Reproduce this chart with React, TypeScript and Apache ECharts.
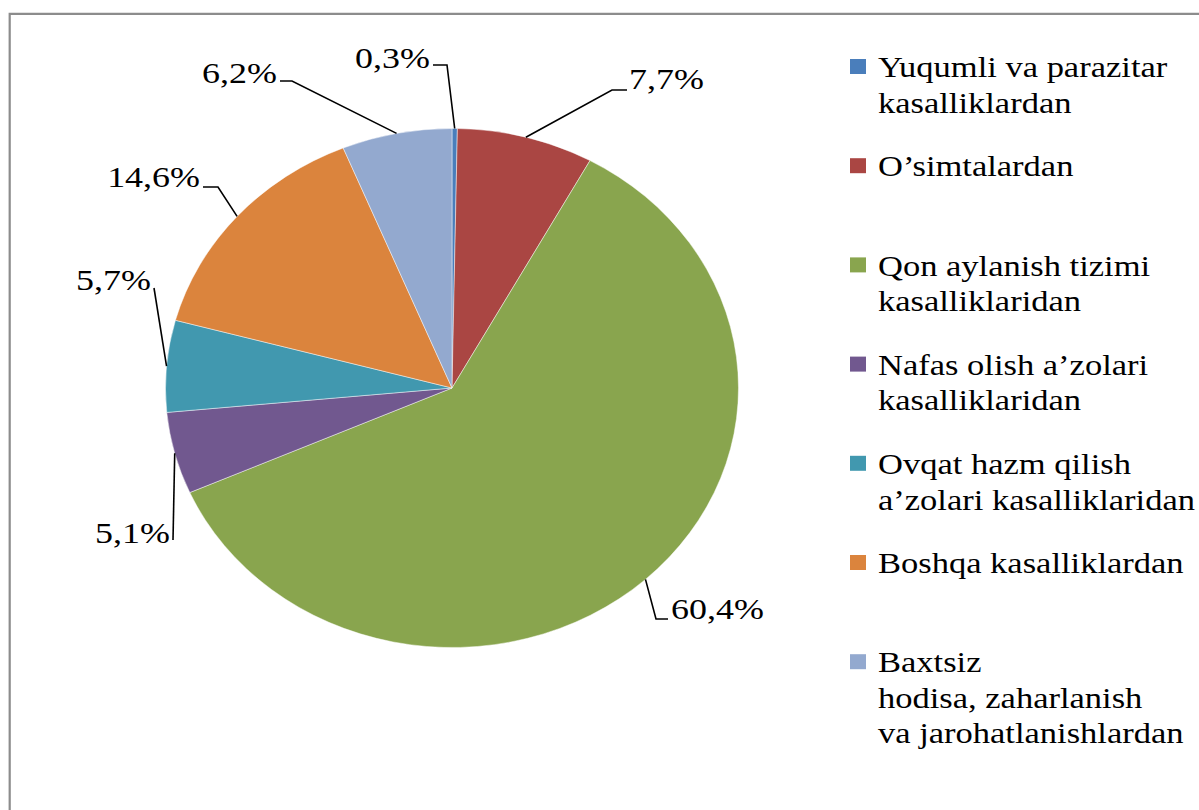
import React, { useEffect, useRef } from "react";
import * as echarts from "echarts";

const categories = [
  "Yuqumli va parazitar\nkasalliklardan",
  "O’simtalardan",
  "Qon aylanish tizimi\nkasalliklaridan",
  "Nafas olish a’zolari\nkasalliklaridan",
  "Ovqat hazm qilish\na’zolari kasalliklaridan",
  "Boshqa kasalliklardan",
  "Baxtsiz\nhodisa, zaharlanish\nva jarohatlanishlardan",
];
const values = [0.3, 7.7, 60.4, 5.1, 5.7, 14.6, 6.2];
const colors = ["#4A7EBB", "#AA4643", "#89A54E", "#71588F", "#4198AF", "#DB843D", "#93A9CF"];

// layout constants (positions only)
const CX = 452;
const CY = 388;
const RX = 286.5;
const RY = 259.5;
const FONT = "'Liberation Serif', 'Times New Roman', serif";
const TEXT_SX = 1.24;
const LEGEND_SX = 1.19;
const labelLayout = [
  { elbow: [447, 65], end: [433, 65], tx: 430, ty: 58, align: "right" },
  { elbow: [612, 90], end: [627, 90], tx: 629, ty: 79, align: "left" },
  { elbow: [656, 619], end: [668, 619], tx: 671, ty: 609, align: "left" },
  { elbow: [173, 540], end: [173, 540], tx: 170, ty: 533, align: "right" },
  { elbow: [154, 288], end: [154, 288], tx: 151, ty: 280, align: "right" },
  { elbow: [218, 187], end: [203, 187], tx: 200, ty: 177, align: "right" },
  { elbow: [292, 81], end: [280, 81], tx: 277, ty: 73, align: "right" },
];
const LEGEND_X = 850;
const LEGEND_TOP = 59;
const LEGEND_STEP = 99.2;

export default function App() {
  const ref = useRef<HTMLDivElement>(null);

  useEffect(() => {
    if (!ref.current) return;
    const chart = echarts.init(ref.current, undefined, { renderer: "svg" });

    const total = values.reduce((a, b) => a + b, 0);
    let acc = 0;
    const sliceData = values.map((v) => {
      const s = acc / total;
      acc += v;
      return [s, acc / total, v];
    });

    const fmt = (v: number) => v.toFixed(1).replace(".", ",") + "%";

    const renderItem = (params: any, api: any) => {
      const i = params.dataIndex;
      const s = api.value(0);
      const e = api.value(1);
      const v = api.value(2);
      const a0 = -Math.PI / 2 + 2 * Math.PI * s;
      const a1 = -Math.PI / 2 + 2 * Math.PI * e;
      const am = (a0 + a1) / 2;
      const px = CX + RX * Math.cos(am);
      const py = CY + RY * Math.sin(am);
      const L = labelLayout[i];
      return {
        type: "group",
        children: [
          {
            type: "group",
            x: CX,
            y: CY,
            scaleX: RX / RY,
            children: [
              {
                type: "sector",
                shape: { cx: 0, cy: 0, r0: 0, r: RY, startAngle: a0, endAngle: a1, clockwise: true },
                style: { fill: colors[i], stroke: "rgba(255,255,255,0.55)", lineWidth: 0.8, strokeNoScale: true },
              },
            ],
          },
          {
            type: "polyline",
            shape: { points: [[px, py], L.elbow, L.end] },
            style: { stroke: "#000", lineWidth: 1.6, fill: null },
          },
          {
            type: "text",
            x: L.tx,
            y: L.ty,
            scaleX: TEXT_SX,
            style: {
              text: fmt(v),
              x: 0,
              y: 0,
              fill: "#000",
              fontFamily: FONT,
              fontSize: 29,
              align: L.align,
              verticalAlign: "middle",
            },
          },
        ],
      };
    };

    const legendEls: any[] = [];
    categories.forEach((name, i) => {
      const top = LEGEND_TOP + i * LEGEND_STEP;
      legendEls.push({
        type: "rect",
        shape: { x: LEGEND_X, y: top, width: 16, height: 15 },
        style: { fill: colors[i] },
      });
      legendEls.push({
        type: "text",
        x: 878,
        y: top - 9,
        scaleX: LEGEND_SX,
        style: {
          text: name,
          x: 0,
          y: 0,
          fill: "#000",
          fontFamily: FONT,
          fontSize: 29,
          lineHeight: 35.5,
          align: "left",
          verticalAlign: "top",
          textAlign: "left",
          textVerticalAlign: "top",
        },
      });
    });

    chart.setOption({
      animation: false,
      backgroundColor: "#ffffff",
      graphic: [
        {
          type: "rect",
          shape: { x: 9.7, y: 13.8, width: 1300, height: 900 },
          style: { fill: "none", stroke: "#8c8c8c", lineWidth: 2.2 },
          z: -10,
        },
        ...legendEls,
      ],
      series: [
        {
          type: "custom",
          coordinateSystem: "none",
          silent: true,
          data: sliceData,
          renderItem,
        },
      ],
    });

    return () => chart.dispose();
  }, []);

  return (
    <div
      ref={ref}
      style={{ position: "fixed", left: 0, top: 0, width: 1199, height: 810, background: "#fff" }}
    />
  );
}
